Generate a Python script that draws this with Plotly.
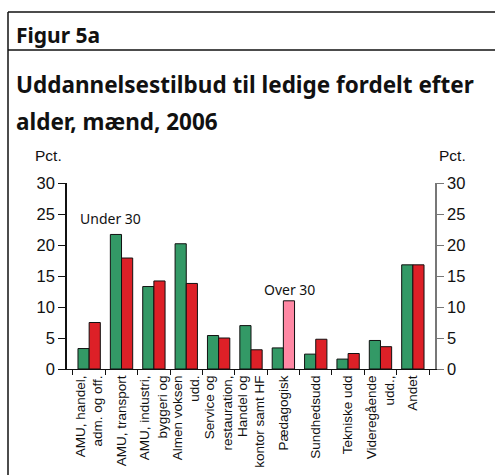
import plotly.graph_objects as go

categories = ["AMU, handel,<br>adm. og off.", "AMU, transport", "AMU, industri,<br>byggeri og",
              "Almen voksen<br>udd.", "Service og<br>restauration,", "Handel og<br>kontor samt HF",
              "Pædagogisk", "Sundhedsudd", "Tekniske udd", "Videregående<br>udd.,", "Andet"]
under30 = [3.3, 21.7, 13.3, 20.2, 5.4, 7.0, 3.4, 2.4, 1.6, 4.6, 16.8]
over30 = [7.5, 17.9, 14.2, 13.8, 5.0, 3.1, 11.0, 4.8, 2.5, 3.6, 16.8]
over30_colors = ["#DD2027"] * 6 + ["#FF88A4"] + ["#DD2027"] * 4
yticks = [0, 5, 10, 15, 20, 25, 30]

W, H = 495, 475
L, R, T, B = 67, 435, 183, 369

def px(x):
    return (x - L) / (R - L)

def py(y):
    return (B - y) / (B - T)

fig = go.Figure()
fig.add_trace(go.Bar(x=categories, y=under30, name="Under 30",
                     marker=dict(color="#339966", line=dict(color="#111111", width=1))))
fig.add_trace(go.Bar(x=categories, y=over30, name="Over 30",
                     marker=dict(color=over30_colors, line=dict(color="#111111", width=1))))
fig.add_trace(go.Scatter(x=categories, y=under30, yaxis="y2", mode="markers",
                         marker=dict(opacity=0), hoverinfo="skip", showlegend=False))

tickfont = dict(family="Liberation Sans, Arial", size=16.5, color="#111111")
fig.update_layout(
    width=W, height=H,
    margin=dict(l=L, r=W - R, t=T, b=H - B),
    paper_bgcolor="white", plot_bgcolor="white",
    showlegend=False, barmode="group", bargap=0.31, bargroupgap=0,
    xaxis=dict(type="category", tickson="boundaries", ticks="outside", ticklen=5,
               tickcolor="#111111", showline=True, linecolor="#111111", linewidth=1,
               tickangle=-90, tickfont=dict(family="Liberation Sans, Arial", size=13.5, color="#111111"),
               showgrid=False, automargin=False),
    yaxis=dict(range=[0, 30], tickvals=yticks, ticks="outside", ticklen=7,
               tickcolor="#111111", showline=True, linecolor="#111111", linewidth=1.5,
               tickfont=tickfont, showgrid=False, zeroline=False, automargin=False),
    yaxis2=dict(range=[0, 30], tickvals=yticks, ticks="outside", ticklen=7,
                tickcolor="#777777", showline=True, linecolor="#777777", linewidth=1.5,
                tickfont=tickfont, showgrid=False, zeroline=False, automargin=False,
                overlaying="y", side="right"),
)

titlefont = "Noto Sans, Open Sans"
ann = [
    dict(text="<b>Figur 5a</b>", x=px(14), y=py(35), xanchor="left", yanchor="middle",
         font=dict(family=titlefont, size=21, color="#111111")),
    dict(text="<b>Uddannelsestilbud til ledige fordelt efter</b>", x=px(14), y=py(84),
         xanchor="left", yanchor="middle", font=dict(family=titlefont, size=22.5, color="#111111")),
    dict(text="<b>alder, mænd, 2006</b>", x=px(14), y=py(121),
         xanchor="left", yanchor="middle", font=dict(family=titlefont, size=22.5, color="#111111")),
    dict(text="Pct.", x=px(33), y=py(156), xanchor="left", yanchor="middle",
         font=dict(family="Liberation Sans, Arial", size=15.5, color="#111111")),
    dict(text="Pct.", x=px(437), y=py(156), xanchor="left", yanchor="middle",
         font=dict(family="Liberation Sans, Arial", size=15.5, color="#111111")),
    dict(text="Under 30", x=px(110), y=py(218), xanchor="center", yanchor="middle",
         font=dict(family=titlefont, size=14, color="#111111")),
    dict(text="Over 30", x=px(289), y=py(289), xanchor="center", yanchor="middle",
         font=dict(family=titlefont, size=14, color="#111111")),
]
for a in ann:
    a.update(xref="paper", yref="paper", showarrow=False)
    fig.add_annotation(**a)

line = dict(color="#111111", width=1.5)
fig.add_shape(type="line", xref="paper", yref="paper", x0=px(8), x1=px(W), y0=py(12), y1=py(12), line=line)
fig.add_shape(type="line", xref="paper", yref="paper", x0=px(8), x1=px(W), y0=py(50), y1=py(50), line=line)
fig.add_shape(type="line", xref="paper", yref="paper", x0=px(8), x1=px(8), y0=py(12), y1=py(H), line=line)

fig.write_html("out.html", config={"displayModeBar": False},
               post_script="document.body.style.margin='0';document.body.style.overflow='hidden';")
